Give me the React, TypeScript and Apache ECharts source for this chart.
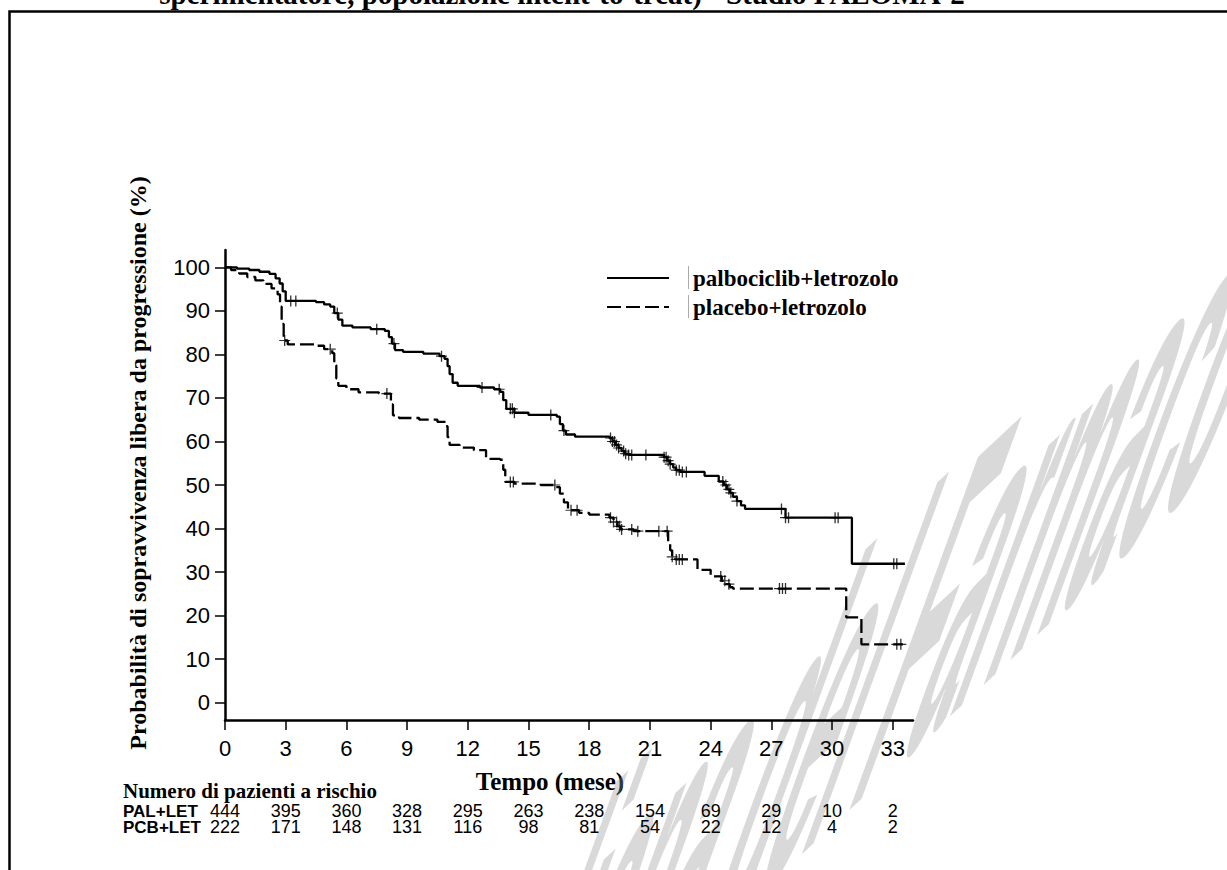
import React, { useEffect, useRef } from "react";
import * as echarts from "echarts";

// ---------- data ----------
const timeTicks = [0, 3, 6, 9, 12, 15, 18, 21, 24, 27, 30, 33];
const survTicks = [0, 10, 20, 30, 40, 50, 60, 70, 80, 90, 100];
const palRisk = [444, 395, 360, 328, 295, 263, 238, 154, 69, 29, 10, 2];
const pcbRisk = [222, 171, 148, 131, 116, 98, 81, 54, 22, 12, 4, 2];
const seriesNames = ["palbociclib+letrozolo", "placebo+letrozolo"];
const rowLabels = ["PAL+LET", "PCB+LET"];

const palTime = [0, 0.6, 1.2, 1.7, 2.2, 2.5, 2.7, 2.85, 3.0, 4.5, 4.9, 5.2, 5.4, 5.6, 5.8, 6.3, 7.2, 7.9,
  8.1, 8.25, 8.4, 8.8, 9.8, 10.6, 10.85, 11.0, 11.1, 11.25, 11.5, 12.6, 13.3, 13.6, 13.75, 13.9, 14.3, 15.0,
  16.4, 16.55, 16.7, 16.85, 17.3, 19.0, 19.15, 19.3, 19.45, 19.6, 19.75, 19.95, 21.7, 21.85, 22.0, 22.15, 22.3, 22.5,
  23.7, 24.4, 24.65, 24.8, 24.95, 25.1, 25.3, 25.5, 25.7, 27.7, 30.98, 33.6];
const palSurv = [100, 99.7, 99.4, 99, 98.5, 97.5, 96.3, 94.5, 92.3, 92, 91.5, 91, 89.5, 88, 86.6, 86.2, 85.8, 85.4,
  84, 82.5, 81, 80.6, 80.2, 79.6, 79, 77.3, 75.5, 73.5, 72.8, 72.4, 72, 71.4, 69.5, 67.5, 66.6, 66.1,
  65.7, 64, 62.5, 61.6, 61.1, 60.8, 60, 59.2, 58.5, 57.8, 57.2, 56.9, 56.4, 55.6, 54.8, 54, 53.4, 53,
  52.1, 50.8, 50, 49, 48.2, 47.3, 46.3, 45.3, 44.5, 42.5, 31.9, 31.9];

const pcbTime = [0, 0.3, 0.7, 1.1, 1.5, 1.9, 2.3, 2.6, 2.72, 2.8, 2.9, 3.1, 4.5, 4.9, 5.3, 5.4, 5.5, 5.6, 6.0, 6.6,
  7.6, 8.2, 8.3, 8.6, 9.6, 10.5, 10.9, 11.0, 11.1, 11.6, 12.3, 12.9, 13.6, 13.75, 13.85, 14.3, 15.6, 16.35, 16.55, 16.75,
  16.95, 17.5, 18.0, 19.0, 19.2, 19.4, 19.55, 20.2, 21.9, 22.0, 22.1, 22.25, 23.35, 24.0, 24.55, 24.75, 24.95, 25.1, 30.7, 31.45,
  33.5];
const pcbSurv = [100, 99.4, 98.6, 97.8, 97, 96.2, 95.2, 93.8, 91, 87, 83.2, 82.3, 82, 81.2, 80.3, 77.5, 74.5, 72.8, 72, 71.3,
  71, 68.5, 66, 65.4, 65, 64.5, 63.5, 61, 59.2, 58.6, 58, 56, 55.8, 53.5, 50.7, 50.3, 50, 49.5, 48, 46,
  44.2, 43.6, 43.2, 42.5, 41.5, 40.5, 39.8, 39.4, 37, 35, 33.5, 32.9, 30.5, 29, 28, 27.2, 26.5, 26.2, 19.6, 13.4,
  13.4];

const palCensor = [3.25, 3.5, 5.55, 7.5, 8.35, 10.7, 12.7, 13.55, 14.1, 14.2, 14.3, 16.1, 16.75, 19.05, 19.15, 19.25,
  19.35, 19.45, 19.7, 19.8, 19.95, 20.1, 20.8, 21.7, 21.8, 21.9, 22.0, 22.3, 22.45, 22.6, 22.8, 24.6, 24.75, 24.9,
  25.0, 25.3, 27.5, 27.7, 27.85, 30.15, 30.3, 33.05, 33.2];
const pcbCensor = [2.95, 5.2, 8.0, 14.1, 14.25, 16.3, 17.1, 17.4, 19.05, 19.2, 19.35, 19.5, 19.6, 20.1, 20.4, 21.44,
  21.85, 22.1, 22.3, 22.45, 22.6, 24.5, 24.7, 24.9, 27.4, 27.55, 27.7, 33.2, 33.4];

const titleText = "sperimentatore, popolazione intent-to-treat) - Studio PALOMA-2";
const yTitle = "Probabilità di sopravvivenza libera da progressione (%)";
const xTitle = "Tempo (mese)";
const riskTitle = "Numero di pazienti a rischio";
const watermarkHead = "Agenzia Italiana del ";
const watermarkTail = "Farmaco";

// ---------- helpers ----------
function survAt(times: number[], surv: number[], t: number) {
  let v = surv[0];
  for (let i = 0; i < times.length; i++) {
    if (times[i] <= t) v = surv[i];
    else break;
  }
  return v;
}

// 2x2 SVD: M = Rot(phi) * diag(sx, sy) * Rot(theta)
function decompose(a: number, b: number, c: number, d: number) {
  const E = (a + d) / 2, F = (a - d) / 2, G = (c + b) / 2, H = (c - b) / 2;
  const Q = Math.hypot(E, H), R = Math.hypot(F, G);
  const a1 = Math.atan2(G, F), a2 = Math.atan2(H, E);
  return { sx: Q + R, sy: Q - R, theta: (a2 - a1) / 2, phi: (a2 + a1) / 2 };
}

const SERIF = "'Liberation Serif', 'Times New Roman', serif";
const SANS = "'Liberation Sans', Arial, sans-serif";

export default function App() {
  const ref = useRef<HTMLDivElement>(null);

  useEffect(() => {
    if (!ref.current) return;
    const chart = echarts.init(ref.current, undefined, { renderer: "svg" });

    const plus = "path://M-5,-0.55H5V0.55H-5Z M-0.6,-5H0.6V5H-0.6Z";

    // watermark transform (baseline angle, glyph-up angle, condensing)
    const beta = (43 * Math.PI) / 180;
    const gamma = (70 * Math.PI) / 180;
    const kw = 0.28, kh = 1.3;
    const m00 = kw * Math.cos(beta), m10 = -kw * Math.sin(beta);
    const m01 = -kh * Math.cos(gamma), m11 = kh * Math.sin(gamma);
    const dec = decompose(m00, m01, m10, m11);
    const wmStyle = {
      fontFamily: SANS,
      fontWeight: "bold",
      fontSize: 420,
      fill: "rgba(150,150,150,0.36)",
      textVerticalAlign: "bottom",
    };

    const riskAxis = (values: number[], margin: number) => ({
      type: "value",
      min: 0,
      max: 34,
      position: "bottom",
      axisLine: { show: false, onZero: false },
      axisTick: { show: false },
      splitLine: { show: false },
      axisLabel: {
        customValues: timeTicks,
        margin,
        fontSize: 18,
        lineHeight: 15,
        fontFamily: SANS,
        color: "#000",
        formatter: (v: number) => String(values[Math.round(v / 3)]),
      },
    });

    const option: any = {
      animation: false,
      backgroundColor: "#fff",
      textStyle: { fontFamily: SANS, color: "#000" },
      grid: { left: 225, top: 250, width: 688, height: 470, containLabel: false },
      legend: {
        orient: "vertical",
        left: 601,
        top: 260,
        itemWidth: 62,
        itemHeight: 14,
        itemGap: 3,
        data: seriesNames,
        selectedMode: false,
        itemStyle: { opacity: 0 },
        textStyle: {
          fontFamily: SERIF,
          fontWeight: "bold",
          fontSize: 23,
          lineHeight: 26,
          color: "#000",
          padding: [0, 0, 0, 19],
        },
      },
      xAxis: [
        {
          type: "value",
          min: 0,
          max: 34,
          position: "bottom",
          axisLine: { show: true, onZero: false, lineStyle: { color: "#000", width: 2.5 } },
          axisTick: { show: true, length: 10, customValues: timeTicks, lineStyle: { color: "#000", width: 1.5 } },
          axisLabel: { customValues: timeTicks, margin: 17, fontSize: 22, fontFamily: SANS, color: "#000" },
          splitLine: { show: false },
        },
        riskAxis(palRisk, 83.5),
        riskAxis(pcbRisk, 99.5),
      ],
      yAxis: {
        type: "value",
        min: -4,
        max: 104,
        axisLine: { show: true, onZero: false, lineStyle: { color: "#000", width: 2.5 } },
        axisTick: { show: true, length: 10, customValues: survTicks, lineStyle: { color: "#000", width: 1.5 } },
        axisLabel: { customValues: survTicks, margin: 15, fontSize: 22, fontFamily: SANS, color: "#000" },
        splitLine: { show: false },
      },
      series: [
        {
          name: seriesNames[0],
          type: "line",
          step: "end",
          xAxisIndex: 0,
          symbol: "none",
          data: palTime.map((t, i) => [t, palSurv[i]]),
          lineStyle: { color: "#000", width: 2.3, type: "solid" },
          itemStyle: { color: "#000" },
          z: 3,
        },
        {
          name: seriesNames[1],
          type: "line",
          step: "end",
          xAxisIndex: 0,
          symbol: "none",
          data: pcbTime.map((t, i) => [t, pcbSurv[i]]),
          lineStyle: { color: "#000", width: 2.3, type: [14, 5] },
          itemStyle: { color: "#000" },
          z: 3,
        },
        {
          name: "censor-pal",
          type: "scatter",
          xAxisIndex: 0,
          symbol: plus,
          symbolSize: 11,
          data: palCensor.map((t) => [t, survAt(palTime, palSurv, t)]),
          itemStyle: { color: "#000" },
          z: 4,
        },
        {
          name: "censor-pcb",
          type: "scatter",
          xAxisIndex: 0,
          symbol: plus,
          symbolSize: 11,
          data: pcbCensor.map((t) => [t, survAt(pcbTime, pcbSurv, t)]),
          itemStyle: { color: "#000" },
          z: 4,
        },
      ],
      graphic: [
        {
          type: "rect",
          shape: { x: 9.5, y: 11.5, width: 1400, height: 1000 },
          style: { fill: "none", stroke: "#000", lineWidth: 2.5 },
          silent: true,
        },
        {
          type: "text",
          x: 562,
          y: 8,
          style: {
            text: titleText,
            fontFamily: SERIF,
            fontWeight: "bold",
            fontSize: 29,
            fill: "#000",
            textAlign: "center",
            textVerticalAlign: "bottom",
          },
        },
        {
          type: "text",
          x: 138,
          y: 463,
          rotation: Math.PI / 2,
          style: {
            text: yTitle,
            fontFamily: SERIF,
            fontWeight: "bold",
            fontSize: 24,
            fill: "#000",
            textAlign: "center",
            textVerticalAlign: "middle",
          },
        },
        {
          type: "text",
          x: 550,
          y: 781,
          style: {
            text: xTitle,
            fontFamily: SERIF,
            fontWeight: "bold",
            fontSize: 25,
            fill: "#000",
            textAlign: "center",
            textVerticalAlign: "middle",
          },
        },
        {
          type: "text",
          x: 123,
          y: 791,
          style: {
            text: riskTitle,
            fontFamily: SERIF,
            fontWeight: "bold",
            fontSize: 21,
            lineHeight: 18,
            fill: "#000",
            textAlign: "left",
            textVerticalAlign: "middle",
          },
        },
        ...rowLabels.map((lab, i) => ({
          type: "text",
          x: 123,
          y: 811 + i * 16,
          style: {
            text: lab,
            fontFamily: SANS,
            fontWeight: "bold",
            fontSize: 17,
            lineHeight: 15,
            fill: "#000",
            textAlign: "left",
            textVerticalAlign: "middle",
          },
        })),
        ...[0, 1].map((i) => ({
          type: "line",
          shape: { x1: 688.5, y1: 266 + i * 29, x2: 688.5, y2: 289 + i * 29 },
          style: { stroke: "#aaa", lineWidth: 1 },
          silent: true,
        })),
        {
          type: "group",
          x: 815,
          y: 894,
          rotation: -dec.phi,
          z: 100,
          silent: true,
          children: [
            {
              type: "group",
              scaleX: dec.sx,
              scaleY: dec.sy,
              children: [
                {
                  type: "group",
                  rotation: -dec.theta,
                  children: [
                    { type: "text", style: { ...wmStyle, text: watermarkTail, textAlign: "left" } },
                    { type: "text", style: { ...wmStyle, text: watermarkHead, textAlign: "right" } },
                  ],
                },
              ],
            },
          ],
        },
      ],
    };

    chart.setOption(option);
    return () => chart.dispose();
  }, []);

  return (
    <div
      ref={ref}
      style={{ position: "absolute", left: 0, top: 0, width: 1227, height: 870 }}
    />
  );
}
